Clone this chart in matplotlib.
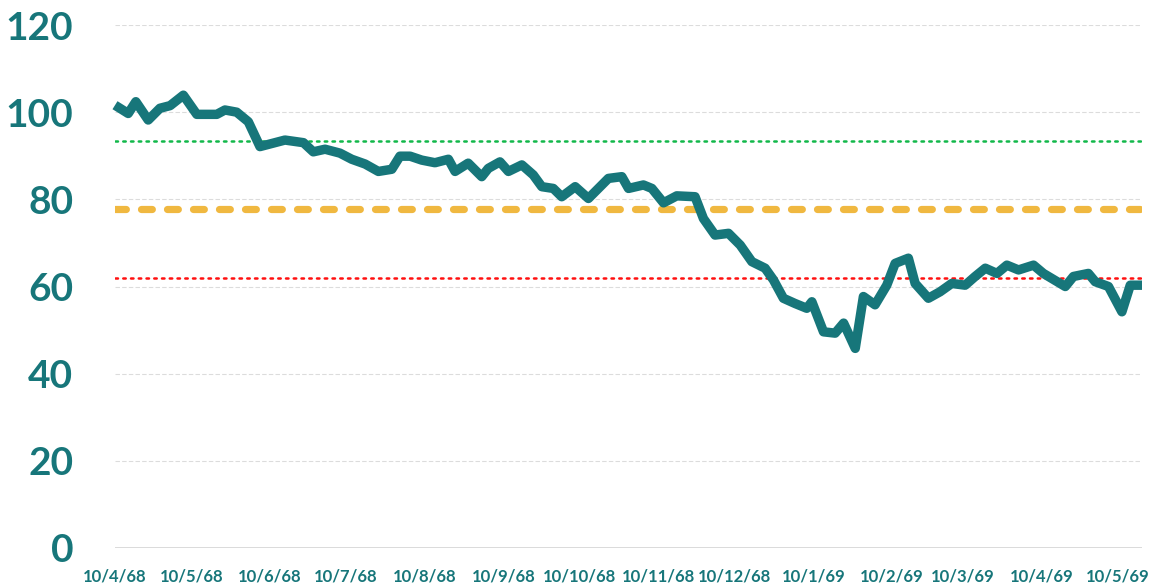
import matplotlib
matplotlib.use("Agg")
import matplotlib.pyplot as plt
import numpy as np
import datetime as dt

# ---- data ----
start_date = dt.date(1968, 4, 10)
day_offsets = [0, 5.2, 8.2, 13.1, 17.7, 21.7, 26.9, 32.2, 40.1, 43.3, 47.9, 52.5, 57.1,
               66.9, 74.2, 78.1, 82.7, 88.6, 93.2, 98.5, 103.7, 109.0, 112.2, 116.2,
               120.8, 126.0, 131.3, 133.9, 139.1, 144.4, 147.0, 151.6, 154.9, 160.2,
               164.7, 168.1, 172.6, 175.9, 181.2, 186.4, 194.3, 199.6, 202.2, 208.1,
               211.4, 216.0, 221.2, 228.4, 231.7, 236.3, 241.6, 246.2, 250.8, 256.0,
               259.3, 263.2, 267.8, 272.4, 274.4, 279.0, 283.6, 286.9, 291.5, 294.7,
               299.3, 303.9, 307.2, 312.4, 315.1, 320.3, 324.9, 329.5, 334.8, 338.7,
               342.7, 347.3, 351.2, 355.8, 361.7, 365.6, 374.2, 377.4, 383.3, 386.0,
               391.2, 396.5, 399.8, 404.4]
values = [101.6, 99.7, 102.4, 98.2, 100.9, 101.5, 103.9, 99.5, 99.5, 100.5, 100.0, 97.8, 92.1,
          93.6, 93.0, 90.9, 91.5, 90.6, 89.2, 88.1, 86.4, 86.9, 89.9, 89.9,
          89.0, 88.4, 89.2, 86.4, 88.3, 85.2, 87.1, 88.6, 86.4, 87.9,
          85.6, 82.9, 82.5, 80.6, 82.9, 80.2, 84.8, 85.2, 82.5, 83.3,
          82.5, 79.2, 80.8, 80.6, 75.6, 71.8, 72.2, 69.5, 65.7, 64.2,
          61.5, 57.3, 56.1, 55.0, 56.5, 49.6, 49.3, 51.6, 45.8, 57.7,
          55.8, 60.3, 65.3, 66.5, 60.7, 57.3, 58.8, 60.7, 60.3, 62.3,
          64.2, 63.0, 64.9, 63.8, 64.9, 63.0, 60.0, 62.3, 63.0, 61.1,
          60.0, 54.2, 60.3, 60.3]
upper_ref = 93.4
mean_ref = 77.8
lower_ref = 62.0
y_ticks = [0, 20, 40, 60, 80, 100, 120]
tick_months = [(1968, m) for m in range(4, 13)] + [(1969, m) for m in range(1, 6)]

dates = [np.datetime64(start_date) + np.timedelta64(int(round(d * 24)), 'h') for d in day_offsets]
tick_dates = [np.datetime64(dt.date(y, m, 10)) for (y, m) in tick_months]
tick_labels = [f"10/{m}/{str(y)[2:]}" for (y, m) in tick_months]

teal = "#17767a"
fig = plt.figure(figsize=(11.58, 5.87), dpi=100)
ax = fig.add_axes([115 / 1158, 39 / 587, 1027 / 1158, 523 / 587])

ax.set_ylim(0, 120)
ax.set_xlim(dates[0], dates[-1])

for yv in y_ticks[1:]:
    ax.axhline(yv, color="#dcdcdc", lw=0.8, linestyle=(0, (4, 2)), zorder=1)
ax.axhline(0, color="#d4d4d4", lw=1.2, zorder=1)

ax.axhline(upper_ref, color="#12b84a", lw=1.8, linestyle=(0, (1, 2.1)),
           dash_capstyle="round", zorder=2)
ax.axhline(lower_ref, color="#ff1010", lw=1.8, linestyle=(0, (1, 2.1)),
           dash_capstyle="round", zorder=2)
ax.axhline(mean_ref, color="#f0b840", lw=5.2, linestyle=(0, (1.5, 2.1)),
           dash_capstyle="round", zorder=2)

ax.plot(dates, values, color=teal, lw=6.8, solid_joinstyle="round",
        solid_capstyle="butt", zorder=3, clip_on=False)

for s in ax.spines.values():
    s.set_visible(False)

ax.set_yticks(y_ticks)
ax.set_yticklabels([str(v) for v in y_ticks], fontfamily="Lato", fontweight="bold",
                   fontsize=28, color=teal)
ax.set_xticks(tick_dates)
ax.set_xticklabels(tick_labels, fontfamily="Lato", fontweight="bold",
                   fontsize=12, color=teal)
ax.tick_params(axis="y", length=0, pad=30)
ax.tick_params(axis="x", length=0, pad=15)

fig.savefig("out.png", dpi=100)
